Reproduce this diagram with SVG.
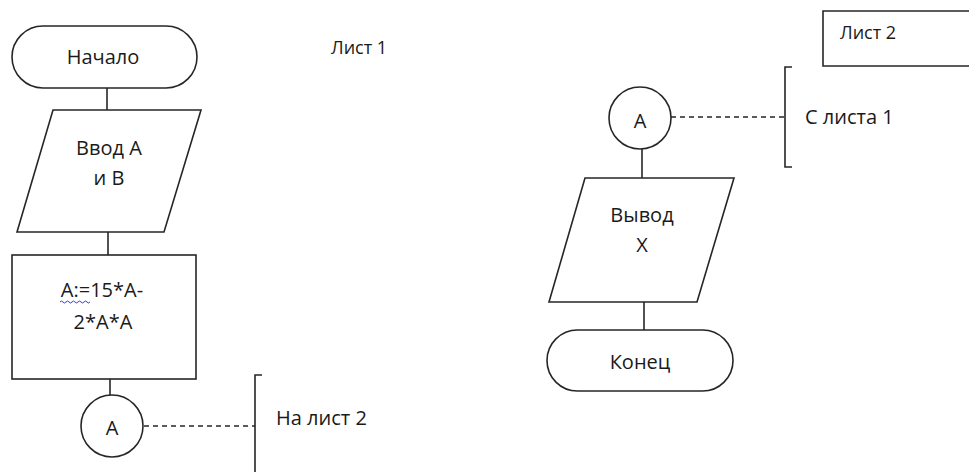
<svg xmlns="http://www.w3.org/2000/svg" width="969" height="472" viewBox="0 0 969 472">
  <style>
    .shape { fill: #ffffff; stroke: #262626; stroke-width: 1.6; }
    .line { fill: none; stroke: #262626; stroke-width: 1.6; }
    .dash { fill: none; stroke: #262626; stroke-width: 1.4; stroke-dasharray: 5 4; }
    .txt { font-family: "Open Sans", "Liberation Sans", sans-serif; font-size: 20px; fill: #1a1a1a; text-anchor: middle; }
    .lbl { font-family: "Open Sans", "Liberation Sans", sans-serif; font-size: 20px; fill: #1a1a1a; }
    .head { font-family: "Open Sans", "Liberation Sans", sans-serif; font-size: 18px; fill: #1a1a1a; }
  </style>
  <rect width="969" height="472" fill="#ffffff"/>

  <!-- connectors -->
  <g id="connectors">
    <line class="line" x1="107" y1="88" x2="107" y2="110"/>
    <line class="line" x1="108" y1="232" x2="108" y2="255"/>
    <line class="line" x1="110" y1="379" x2="110" y2="395"/>
    <line class="line" x1="642" y1="149" x2="642" y2="178"/>
    <line class="line" x1="644" y1="302" x2="644" y2="330"/>
    <line class="dash" x1="144" y1="426" x2="255" y2="426"/>
    <line class="dash" x1="671" y1="117" x2="785" y2="117"/>
  </g>

  <!-- sheet 1 -->
  <g id="start">
    <rect class="shape" x="12" y="26" width="185" height="62" rx="31" ry="31"/>
    <text class="txt" x="103" y="64">Начало</text>
  </g>

  <g id="input">
    <polygon class="shape" points="53,110 201,110 164,232 17,232"/>
    <text class="txt" x="109" y="155">Ввод A</text>
    <text class="txt" x="109" y="185">и B</text>
  </g>

  <g id="assign">
    <rect class="shape" x="12" y="255" width="184" height="124"/>
    <text class="txt" x="102" y="297">A:=15*A-</text>
    <text class="txt" x="103" y="329">2*A*A</text>
    <!-- spell-check squiggle under "A:=" -->
    <path d="M60,302 q1.5,-2 3,0 t3,0 t3,0 t3,0 t3,0 t3,0 t3,0 t3,0 t3,0 t3,0" fill="none" stroke="#3b3bdc" stroke-width="1"/>
  </g>

  <g id="connector-out">
    <circle class="shape" cx="112" cy="426" r="31"/>
    <text class="txt" x="112" y="435">A</text>
  </g>

  <g id="note-out">
    <path class="line" d="M262,375 H255 V472"/>
    <text class="lbl" x="276" y="425">На лист 2</text>
  </g>

  <g id="sheet1-title">
    <text class="head" x="331" y="54">Лист 1</text>
  </g>

  <!-- sheet 2 -->
  <g id="sheet2-title">
    <path class="line" d="M975,11 H823 V66 H975"/>
    <text class="head" x="840" y="39">Лист 2</text>
  </g>

  <g id="connector-in">
    <circle class="shape" cx="640" cy="118" r="31"/>
    <text class="txt" x="640" y="128">A</text>
  </g>

  <g id="note-in">
    <path class="line" d="M792,67 H785 V167 H792"/>
    <text class="lbl" x="805" y="124">С листа 1</text>
  </g>

  <g id="output">
    <polygon class="shape" points="585,178 734,178 697,302 549,302"/>
    <text class="txt" x="642" y="222">Вывод</text>
    <text class="txt" x="642" y="252">X</text>
  </g>

  <g id="end">
    <rect class="shape" x="547" y="330" width="186" height="61" rx="30.5" ry="30.5"/>
    <text class="txt" x="640" y="369">Конец</text>
  </g>
</svg>
